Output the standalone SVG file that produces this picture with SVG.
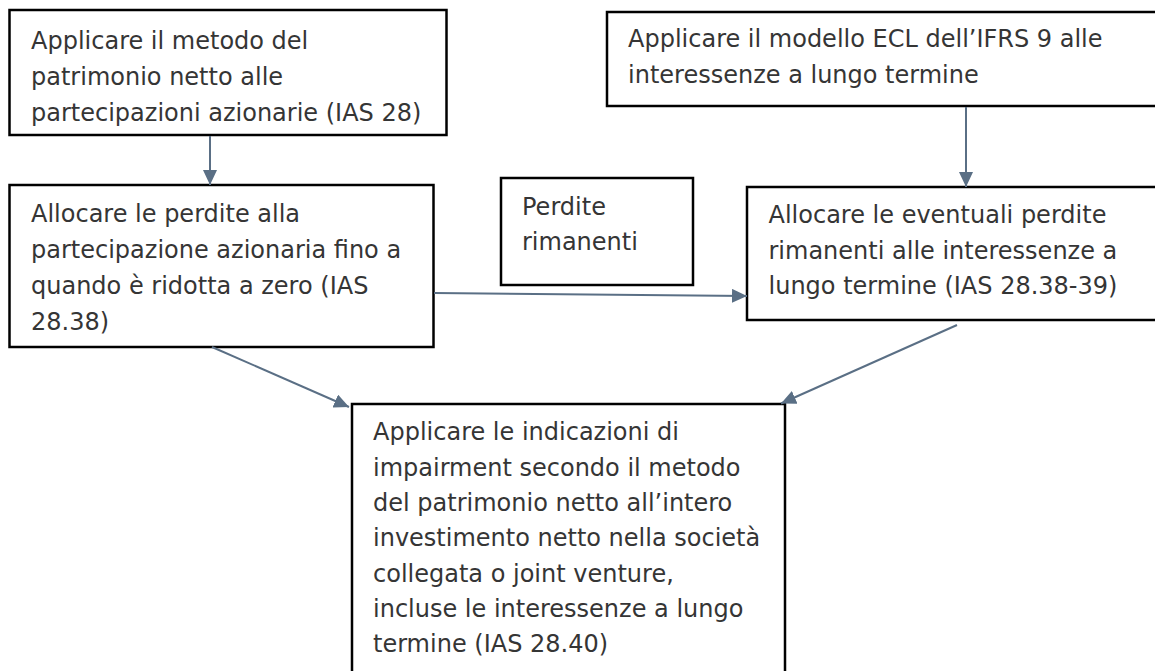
<svg xmlns="http://www.w3.org/2000/svg" width="1155" height="671" viewBox="0 0 1155 671">
<style>
.box{fill:#fff;stroke:#000;stroke-width:2.5}
.t{font-family:"DejaVu Sans","Liberation Sans",sans-serif;font-size:24px;fill:#353535}
.c{stroke:#5a6f85;stroke-width:2;fill:none;marker-end:url(#ah)}
</style>
<defs>
<marker id="ah" viewBox="0 0 15 14" refX="15" refY="7" markerWidth="15" markerHeight="14" orient="auto" markerUnits="userSpaceOnUse">
<path d="M0,0 L15,7 L0,14 Z" fill="#5a6f85"/>
</marker>
</defs>
<rect width="1155" height="671" fill="#fff"/>
<g id="n1">
<rect class="box" x="9.5" y="10" width="437" height="125"/>
<text class="t" x="31" y="49">Applicare il metodo del</text>
<text class="t" x="31" y="85">patrimonio netto alle</text>
<text class="t" x="31" y="121">partecipazioni azionarie (IAS 28)</text>
</g>
<g id="n2">
<rect class="box" x="607" y="12" width="560" height="94"/>
<text class="t" x="628" y="47">Applicare il modello ECL dell’IFRS 9 alle</text>
<text class="t" x="628" y="82.5">interessenze a lungo termine</text>
</g>
<g id="n3">
<rect class="box" x="9.5" y="185" width="424" height="162"/>
<text class="t" x="31" y="221.5">Allocare le perdite alla</text>
<text class="t" x="31" y="257.5">partecipazione azionaria fino a</text>
<text class="t" x="31" y="294">quando è ridotta a zero (IAS</text>
<text class="t" x="31" y="330">28.38)</text>
</g>
<g id="n4">
<rect class="box" x="501" y="178" width="192" height="107"/>
<text class="t" x="522" y="215">Perdite</text>
<text class="t" x="522" y="250">rimanenti</text>
</g>
<g id="n5">
<rect class="box" x="747" y="187" width="420" height="133"/>
<text class="t" x="768.5" y="222.5">Allocare le eventuali perdite</text>
<text class="t" x="768.5" y="258.5">rimanenti alle interessenze a</text>
<text class="t" x="768.5" y="294">lungo termine (IAS 28.38-39)</text>
</g>
<g id="n6">
<rect class="box" x="352" y="404" width="433" height="280"/>
<text class="t" x="373" y="440">Applicare le indicazioni di</text>
<text class="t" x="373" y="475.5">impairment secondo il metodo</text>
<text class="t" x="373" y="511">del patrimonio netto all’intero</text>
<text class="t" x="373" y="546">investimento netto nella società</text>
<text class="t" x="373" y="581.5">collegata o joint venture,</text>
<text class="t" x="373" y="617">incluse le interessenze a lungo</text>
<text class="t" x="373" y="652">termine (IAS 28.40)</text>
</g>
<g id="connectors">
<line class="c" x1="210" y1="136" x2="210" y2="185"/>
<line class="c" x1="966" y1="107" x2="966" y2="187"/>
<line class="c" x1="434" y1="293" x2="747" y2="296"/>
<line class="c" x1="212" y1="347" x2="349" y2="407"/>
<line class="c" x1="957" y1="325" x2="781" y2="403.5"/>
</g>
</svg>
